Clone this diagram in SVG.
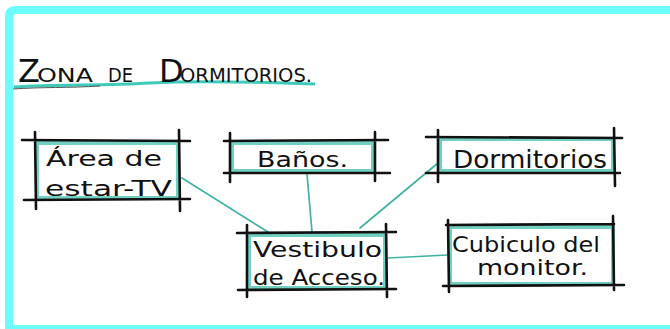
<svg xmlns="http://www.w3.org/2000/svg" width="670" height="329" viewBox="0 0 670 329">
<style>
.frame{fill:none;stroke:#6cfcfc;stroke-width:8}
.tint{fill:#ffffff;stroke:#72d0c2;stroke-width:4}
.edge{fill:none;stroke:#111;stroke-width:2.6;stroke-linecap:round}
.conn{fill:none;stroke:#3fb3a3;stroke-width:1.7;stroke-linecap:round}
.lbl{font-family:"DejaVu Sans","Liberation Sans",sans-serif;font-size:21px;fill:#111}
.ttl{font-family:"DejaVu Sans","Liberation Sans",sans-serif;font-size:19px;fill:#111}
.big{font-size:32px}
</style>
<rect width="670" height="329" fill="#ffffff"/>
<path class="frame" d="M680,10 L16,10 Q9,10 9,17 L9,329 L680,329"/>
<g id="title">
<path d="M14,87 C60,84 100,86 150,83 S260,82 315,84" fill="none" stroke="#3fc9bb" stroke-width="3"/>
<path d="M13,89 C40,87 70,88 100,86" fill="none" stroke="#555" stroke-width="1"/>
<text class="ttl" y="82"><tspan class="big" x="18">Z</tspan><tspan x="37" textLength="56" lengthAdjust="spacingAndGlyphs">ONA</tspan> <tspan x="108" textLength="25" lengthAdjust="spacingAndGlyphs">DE</tspan> <tspan class="big" x="159">D</tspan><tspan x="180" textLength="132" lengthAdjust="spacingAndGlyphs">ORMITORIOS.</tspan></text>
</g>
<g id="connectors">
<path class="conn" d="M182,178 L268,232"/>
<path class="conn" d="M307,174 L312,232"/>
<path class="conn" d="M438,163 L360,228"/>
<path class="conn" d="M388,258 L448,255"/>
</g>
<g id="area-estar">
<rect class="tint" x="37" y="143" width="141" height="55"/>
<path class="edge" d="M22,140 L190,141 M24,200 L190,199 M35,132 L36,209 M179,130 L180,211"/>
<text class="lbl" x="46" y="166" textLength="116" lengthAdjust="spacingAndGlyphs">Área de</text>
<text class="lbl" x="45" y="196" textLength="127" lengthAdjust="spacingAndGlyphs">estar-TV</text>
</g>
<g id="banos">
<rect class="tint" x="232" y="143" width="141" height="28"/>
<path class="edge" d="M224,141 L388,140 M224,173 L390,173 M230,133 L230,182 M375,132 L375,181"/>
<text class="lbl" x="257" y="167" textLength="91" lengthAdjust="spacingAndGlyphs">Baños.</text>
</g>
<g id="dormitorios">
<rect class="tint" x="440" y="139" width="173" height="32"/>
<path class="edge" d="M426,137 L622,138 M426,173 L620,173 M438,130 L438,182 M614,128 L615,186"/>
<text class="lbl" x="453" y="168" textLength="154" lengthAdjust="spacingAndGlyphs" style="font-size:25px">Dormitorios</text>
</g>
<g id="vestibulo">
<rect class="tint" x="249" y="235" width="136" height="53"/>
<path class="edge" d="M237,233 L396,232 M238,290 L396,289 M247,225 L247,297 M386,224 L387,297"/>
<text class="lbl" x="253" y="257" textLength="129" lengthAdjust="spacingAndGlyphs">Vestibulo</text>
<text class="lbl" x="253" y="285" textLength="132" lengthAdjust="spacingAndGlyphs">de Acceso.</text>
</g>
<g id="cubiculo">
<rect class="tint" x="450" y="227" width="163" height="57"/>
<path class="edge" d="M446,225 L614,224 M443,286 L624,285 M448,220 L449,292 M613,216 L614,290"/>
<text class="lbl" x="452" y="252" textLength="148" lengthAdjust="spacingAndGlyphs">Cubiculo del</text>
<text class="lbl" x="477" y="275" textLength="111" lengthAdjust="spacingAndGlyphs">monitor.</text>
</g>
</svg>
